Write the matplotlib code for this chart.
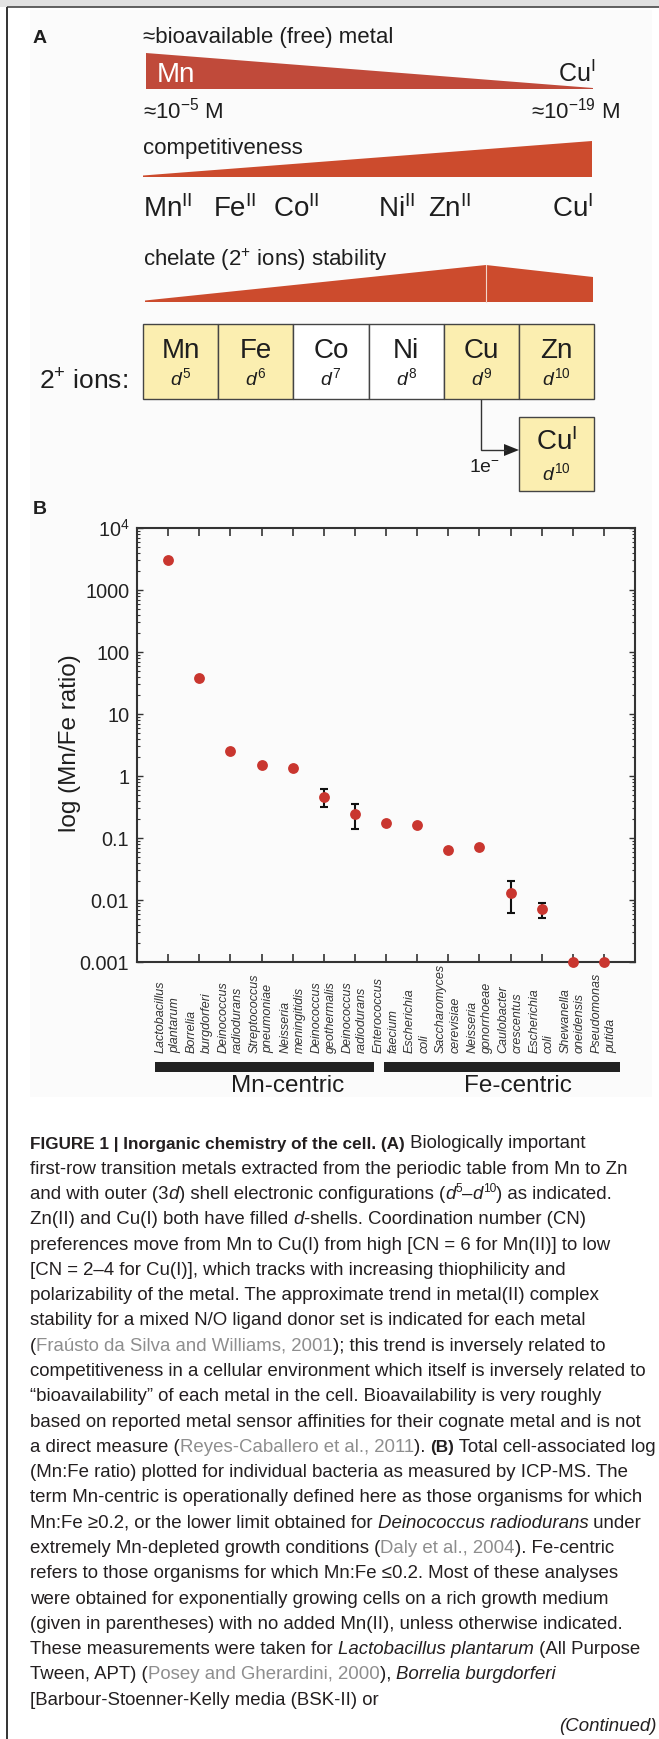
import numpy as np
import matplotlib
matplotlib.use("Agg")
import matplotlib.pyplot as plt
from matplotlib.patches import Polygon, Rectangle
from matplotlib.transforms import blended_transform_factory
from matplotlib.ticker import FixedLocator, LogLocator, NullFormatter

plt.rcParams['font.family'] = ['Liberation Sans', 'DejaVu Sans']
plt.rcParams['mathtext.fontset'] = 'custom'
plt.rcParams['mathtext.rm'] = 'Liberation Sans'
plt.rcParams['mathtext.it'] = 'Liberation Sans:italic'
plt.rcParams['mathtext.bf'] = 'Liberation Sans:bold'

# ---------------- data ----------------
organisms = ["Lactobacillus\nplantarum", "Borrelia\nburgdorferi", "Deinococcus\nradiodurans",
             "Streptococcus\npneumoniae", "Neisseria\nmeningitidis", "Deinococcus\ngeothermalis",
             "Deinococcus\nradiodurans", "Enterococcus\nfaecium", "Escherichia\ncoli",
             "Saccharomyces\ncerevisiae", "Neisseria\ngonorrhoeae", "Caulobacter\ncrescentus",
             "Escherichia\ncoli", "Shewanella\noneidensis", "Pseudomonas\nputida"]
mn_fe_ratio = [3000, 38, 2.5, 1.5, 1.33, 0.46, 0.24, 0.172, 0.162, 0.064, 0.071, 0.0131, 0.0071, 0.001, 0.001]
err_low = [np.nan, np.nan, np.nan, np.nan, np.nan, 0.32, 0.14, np.nan, np.nan, np.nan, np.nan, 0.0061, 0.0051, np.nan, np.nan]
err_high = [np.nan, np.nan, np.nan, np.nan, np.nan, 0.61, 0.35, np.nan, np.nan, np.nan, np.nan, 0.0204, 0.0090, np.nan, np.nan]
y_ticks = [1e-3, 1e-2, 1e-1, 1, 10, 100, 1000, 1e4]
y_ticklabels = ['0.001', '0.01', '0.1', '1', '10', '100', '1000', r'10$^{4}$']
groups = ["Mn-centric", "Fe-centric"]
group_span_start = [0.58, 7.94]
group_span_end = [7.62, 15.53]

ions = ["Mn", "Fe", "Co", "Ni", "Cu", "Zn"]
d_electrons = [5, 6, 7, 8, 9, 10]
highlighted = [True, True, False, False, True, True]
competitive_order = ["Mn", "Fe", "Co", "Ni", "Zn"]
competitive_ox = ["II", "II", "II", "II", "II"]

# ---------------- figure ----------------
W, H = 659, 1739
fig = plt.figure(figsize=(W / 100, H / 100), dpi=100)
fig.patch.set_facecolor('white')
ov = fig.add_axes([0, 0, 1, 1], zorder=0)
ov.set_xlim(0, W)
ov.set_ylim(H, 0)
ov.axis('off')

TXT = '#1e1e1e'
RED1 = '#c04a3a'
RED2 = '#cc4b2d'
YEL = '#fbeeb0'

# page frame
ov.add_patch(Rectangle((30, 10), 622, 1087, color='#fbfbfb', lw=0, zorder=0))
ov.add_patch(Rectangle((0, 0), W, 6.5, color='#e2e2e2', lw=0, zorder=1))
ov.plot([7, W], [7, 7], color='#555555', lw=1.3, zorder=2, solid_capstyle='butt')
ov.plot([7, 7], [7, H], color='#333333', lw=1.4, zorder=2, solid_capstyle='butt')

# ---------------- panel A ----------------
ov.text(33, 43, 'A', fontsize=14, fontweight='bold', color=TXT, va='baseline')
ov.text(143, 43, '\u2248bioavailable (free) metal', fontsize=16, color=TXT, va='baseline')
ov.add_patch(Polygon([(146, 53), (146, 89), (593, 89), (593, 87.5)], closed=True, color=RED1, lw=0))
ov.text(157, 82.5, 'Mn', fontsize=20, color='white', va='baseline')
ov.text(595, 82, r'Cu$^{\mathrm{I}}$', fontsize=18, color=TXT, va='baseline', ha='right')
ov.text(143, 119, '\u224810$^{-5}$ M', fontsize=16, color=TXT, va='baseline')
ov.text(620, 119, '\u224810$^{-19}$ M', fontsize=16, color=TXT, va='baseline', ha='right')
ov.text(143, 154, 'competitiveness', fontsize=16, color=TXT, va='baseline')
ov.add_patch(Polygon([(143, 177), (143, 175.5), (592, 141), (592, 177)], closed=True, color=RED2, lw=0))

comp_x = [143, 213, 273, 378, 428]
for xx, el, ox in zip(comp_x, competitive_order, competitive_ox):
    ov.text(xx, 217, el + r'$^{\mathrm{' + ox + '}}$', fontsize=20, color=TXT, va='baseline')
ov.text(593, 217, r'Cu$^{\mathrm{I}}$', fontsize=20, color=TXT, va='baseline', ha='right')

ov.text(143, 266, r'chelate (2$^{+}$ ions) stability', fontsize=16, color=TXT, va='baseline')
ov.add_patch(Polygon([(145, 302), (145, 300.5), (486, 265), (593, 277), (593, 302)], closed=True, color=RED2, lw=0))
ov.plot([486, 486], [265, 302], color='#f2d6cc', lw=0.8)

cell_w = (594 - 143) / len(ions)
for i, (el, d, hl) in enumerate(zip(ions, d_electrons, highlighted)):
    x0 = 143 + i * cell_w
    ov.add_patch(Rectangle((x0, 324), cell_w, 75, facecolor=YEL if hl else 'white',
                           edgecolor='#444444', lw=1.0, zorder=3))
    ov.text(x0 + cell_w / 2, 358, el, fontsize=20, color=TXT, ha='center', va='baseline', zorder=4)
    ov.text(x0 + cell_w / 2, 385, r'$\mathit{d}^{\mathit{' + str(d) + '}}$', fontsize=14,
            color=TXT, ha='center', va='baseline', zorder=4)
ov.text(128, 390, r'2$^{+}$ ions:', fontsize=19, color=TXT, ha='right', va='baseline')

# Cu(I) box and arrow
ov.add_patch(Rectangle((519, 417), 75, 74, facecolor=YEL, edgecolor='#444444', lw=1.0, zorder=3))
ov.text(556.5, 450, r'Cu$^{\mathrm{I}}$', fontsize=20, color=TXT, ha='center', va='baseline', zorder=4)
ov.text(556.5, 480, r'$\mathit{d}^{\mathit{10}}$', fontsize=14, color=TXT, ha='center', va='baseline', zorder=4)
ov.plot([481, 481, 506], [399, 450, 450], color='#333333', lw=1.0, solid_joinstyle='miter')
ov.add_patch(Polygon([(504, 444), (519, 450), (504, 456)], closed=True, color='#222222', lw=0))
ov.text(500, 472, r'1e$^{-}$', fontsize=14, color=TXT, ha='right', va='baseline')

# ---------------- panel B ----------------
ov.text(33, 514, 'B', fontsize=14, fontweight='bold', color=TXT, va='baseline')

L, R, T, B = 137, 635, 528, 962
ax = fig.add_axes([L / W, 1 - B / H, (R - L) / W, (B - T) / H], zorder=2)
ax.set_facecolor('none')
x = np.arange(1, len(organisms) + 1)
ratio = np.array(mn_fe_ratio)
lo = np.array(err_low)
hi = np.array(err_high)
m = ~np.isnan(lo)
ax.set_yscale('log')
ax.set_ylim(1e-3, 1e4)
ax.set_xlim(0, len(organisms) + 1)
ax.errorbar(x[m], ratio[m], yerr=[ratio[m] - lo[m], hi[m] - ratio[m]], fmt='none',
            ecolor='#111111', elinewidth=1.5, capsize=3.0, capthick=1.5, zorder=3)
ax.plot(x, ratio, 'o', color='#c9362f', ms=7.8, mec='none', zorder=4, clip_on=False)

ax.set_xticks(x)
ax.set_xticklabels([])
ax.yaxis.set_major_locator(FixedLocator(y_ticks))
ax.set_yticklabels(y_ticklabels)
ax.yaxis.set_minor_locator(LogLocator(base=10, subs=np.arange(2, 10), numticks=30))
ax.yaxis.set_minor_formatter(NullFormatter())
ax.tick_params(axis='x', which='major', direction='in', top=True, bottom=True,
               length=5.5, width=1.2, color='#333333')
ax.tick_params(axis='y', which='major', direction='in', left=True, right=True,
               length=4.5, width=1.0, color='#333333', labelsize=14.3, labelcolor='#222222', pad=5.5)
ax.tick_params(axis='y', which='minor', direction='in', left=True, right=True,
               length=2.5, width=0.8, color='#333333')
for s in ax.spines.values():
    s.set_linewidth(1.5)
    s.set_color('#333333')

trans = blended_transform_factory(ax.transData, ov.transData)
for xi, name in zip(x, organisms):
    ax.text(xi, 1053, name, transform=trans, rotation=90, ha='center', va='bottom',
            multialignment='left', fontsize=9, style='italic', color='#333333', linespacing=1.28)
for name, a, b in zip(groups, group_span_start, group_span_end):
    ax.add_patch(Rectangle((a, 1062), b - a, 10, transform=trans, color='#222222', lw=0, clip_on=False))
ov.text(288, 1086, groups[0], fontsize=17.5, color=TXT, ha='center', va='center')
ov.text(518, 1086, groups[1], fontsize=17.5, color=TXT, ha='center', va='center')
ov.text(70, 743, 'log (Mn/Fe ratio)', rotation=90, fontsize=17.5, color=TXT, ha='center', va='center')

# ---------------- caption ----------------
CAP = '#231f20'
CITE = '#8e8e8e'
BOLD_SCALE = 0.92
renderer = fig.canvas.get_renderer()


def kw_for(code, fs):
    kw = dict(fontsize=fs, color=CAP, va='baseline', ha='left')
    if 'b' in code:
        kw['fontweight'] = 'bold'
        kw['fontsize'] = fs * BOLD_SCALE
    if 'i' in code:
        kw['fontstyle'] = 'italic'
    if 'g' in code:
        kw['color'] = CITE
    return kw


def advance(s, kw):
    t1 = ov.text(0, 0, '|' + s + '|', **kw)
    t2 = ov.text(0, 0, '||', **kw)
    w = t1.get_window_extent(renderer).width - t2.get_window_extent(renderer).width
    t1.remove()
    t2.remove()
    return w


def runs_layout(x0, y0, runs, fs, draw=True):
    xx = x0
    for code, s in runs:
        sup = 's' in code
        size = fs * 0.64 if sup else fs
        dy = -fs * 0.40 * 100 / 72 if sup else 0
        kw = kw_for(code, size)
        if draw:
            ov.text(xx, y0 + dy, s, **kw)
        xx += advance(s, kw)
    return xx - x0


caption = [
    [('b', 'FIGURE 1 | Inorganic chemistry of the cell. (A)'), ('n', ' Biologically important')],
    [('n', 'first-row transition metals extracted from the periodic table from Mn to Zn')],
    [('n', 'and with outer (3'), ('i', 'd'), ('n', ') shell electronic configurations ('), ('i', 'd'),
     ('s', '5'), ('n', '\u2013'), ('i', 'd'), ('s', '10'), ('n', ') as indicated.')],
    [('n', 'Zn(II) and Cu(I) both have filled '), ('i', 'd'), ('n', '-shells. Coordination number (CN)')],
    [('n', 'preferences move from Mn to Cu(I) from high [CN = 6 for Mn(II)] to low')],
    [('n', '[CN = 2\u20134 for Cu(I)], which tracks with increasing thiophilicity and')],
    [('n', 'polarizability of the metal. The approximate trend in metal(II) complex')],
    [('n', 'stability for a mixed N/O ligand donor set is indicated for each metal')],
    [('n', '('), ('g', 'Fra\u00fasto da Silva and Williams, 2001'), ('n', '); this trend is inversely related to')],
    [('n', 'competitiveness in a cellular environment which itself is inversely related to')],
    [('n', '\u201cbioavailability\u201d of each metal in the cell. Bioavailability is very roughly')],
    [('n', 'based on reported metal sensor affinities for their cognate metal and is not')],
    [('n', 'a direct measure ('), ('g', 'Reyes-Caballero et al., 2011'), ('n', '). '), ('b', '(B)'),
     ('n', ' Total cell-associated log')],
    [('n', '(Mn:Fe ratio) plotted for individual bacteria as measured by ICP-MS. The')],
    [('n', 'term Mn-centric is operationally defined here as those organisms for which')],
    [('n', 'Mn:Fe \u22650.2, or the lower limit obtained for '), ('i', 'Deinococcus radiodurans'), ('n', ' under')],
    [('n', 'extremely Mn-depleted growth conditions ('), ('g', 'Daly et al., 2004'), ('n', '). Fe-centric')],
    [('n', 'refers to those organisms for which Mn:Fe \u22640.2. Most of these analyses')],
    [('n', 'were obtained for exponentially growing cells on a rich growth medium')],
    [('n', '(given in parentheses) with no added Mn(II), unless otherwise indicated.')],
    [('n', 'These measurements were taken for '), ('i', 'Lactobacillus plantarum'), ('n', ' (All Purpose')],
    [('n', 'Tween, APT) ('), ('g', 'Posey and Gherardini, 2000'), ('n', '), '), ('i', 'Borrelia burgdorferi')],
    [('n', '[Barbour-Stoenner-Kelly media (BSK-II) or')],
]

# layout: fit the caption font size to the measured right ends of the reference lines
CAP_X = 30
line_right_ends = [610, 637, 616, 571, 617, 564, 596, 584, 595, 647, 602, 643, 641, 616, 644, 643, 612, 626, 611]
fs0 = 13.0
widths = [runs_layout(CAP_X, 0, caption[i], fs0, draw=False) for i in range(len(line_right_ends))]
FS = fs0 * sum(e - CAP_X for e in line_right_ends) / sum(widths)
max_end = CAP_X + max(widths) * FS / fs0
if max_end > 655:
    FS *= (655 - CAP_X) / (max_end - CAP_X)
BASE0 = 1148.5
STEP = 25.28
for i, line in enumerate(caption):
    runs_layout(CAP_X, BASE0 + i * STEP, line, FS)
ov.text(657, 1731, '(Continued)', fontsize=FS, fontstyle='italic', color=CAP, ha='right', va='baseline')

fig.savefig('out.png', dpi=100)
